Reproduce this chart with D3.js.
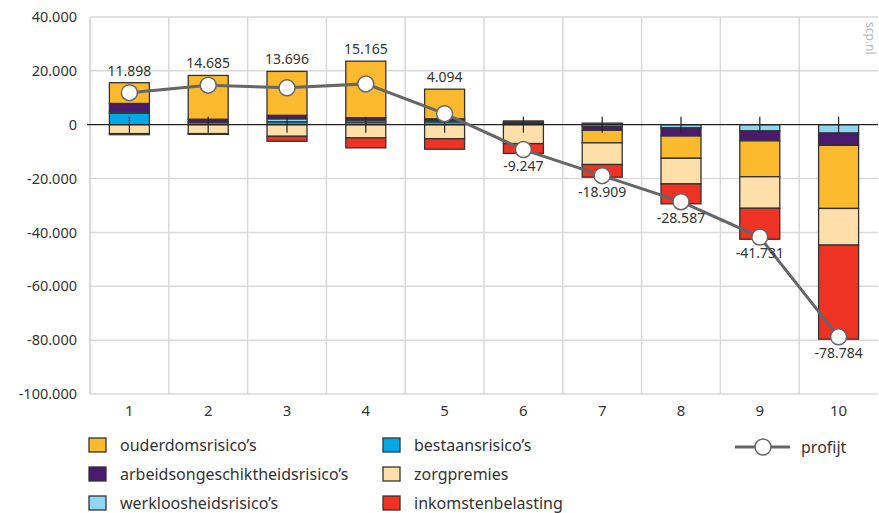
<!DOCTYPE html>
<html><head><meta charset="utf-8">
<script src="https://cdn.jsdelivr.net/npm/d3@7"></script>
<style>
html,body{margin:0;padding:0;background:#fff;}
svg{display:block;font-family:"Noto Sans","Open Sans",sans-serif;}
</style></head>
<body><svg id="c" width="879" height="513"></svg>
<script>
const categories = ["1","2","3","4","5","6","7","8","9","10"];
const bestaans   = [4300, 850, 1100, 1000, 1100, 300, 600, 0, 0, 0];
const werkloos   = [500, 350, 1100, 700, 550, 300, -700, -1200, -2300, -3100];
const arbeids    = [3100, 850, 1300, 900, 550, 300, -1370, -3000, -3700, -4560];
const ouderdom   = [7700, 16250, 16300, 21000, 11000, 500, -4670, -8260, -13330, -23440];
const zorg       = [-3300, -3300, -4300, -4900, -5200, -7000, -8040, -9520, -11700, -13600];
const inkomsten  = [-400, -300, -1850, -3700, -3900, -3650, -4700, -7400, -11500, -34930];
const profijt    = [11898, 14685, 13696, 15165, 4094, -9247, -18909, -28587, -41731, -78784];
const yTicks     = [40000, 20000, 0, -20000, -40000, -60000, -80000, -100000];

const seriesDef = [
  {key:"bestaans", name:"bestaansrisico’s", values:bestaans, color:"#00a9e6"},
  {key:"werkloos", name:"werkloosheidsrisico’s", values:werkloos, color:"#8fd6f3"},
  {key:"arbeids", name:"arbeidsongeschiktheidsrisico’s", values:arbeids, color:"#4a1a6c"},
  {key:"ouderdom", name:"ouderdomsrisico’s", values:ouderdom, color:"#fbb92e"},
  {key:"zorg", name:"zorgpremies", values:zorg, color:"#fedfa9"},
  {key:"inkomsten", name:"inkomstenbelasting", values:inkomsten, color:"#ee3224"}
];
const table = categories.map((c,i)=>{
  const o={cat:c};
  seriesDef.forEach(s=>o[s.key]=s.values[i]);
  return o;
});
const stack = d3.stack().keys(seriesDef.map(s=>s.key)).offset(d3.stackOffsetDiverging);
const stacked = stack(table);

const svg = d3.select("#c");
const fmt = v => d3.format(",")(v).replace(/,/g,".").replace(/\u2212/g,"-");

const x = d3.scaleBand().domain(categories).range([90, 878]).padding(0);
const y = d3.scaleLinear().domain([-100000, 40000]).range([394, 17]);
const barW = 40;
const cx = c => x(c) + x.bandwidth()/2;

// gridlines
const g = svg.append("g");
g.selectAll("line.h").data(yTicks.filter(t=>t!==0)).join("line")
  .attr("x1", 90).attr("x2", 878).attr("y1", d=>y(d)).attr("y2", d=>y(d))
  .attr("stroke","#d9d9d9").attr("stroke-width",1.5);
g.selectAll("line.v").data(categories.slice(1)).join("line")
  .attr("x1", d=>x(d)).attr("x2", d=>x(d)).attr("y1", y(40000)).attr("y2", y(-100000))
  .attr("stroke","#d9d9d9").attr("stroke-width",1.5);
g.append("line").attr("x1",90).attr("x2",90).attr("y1",y(40000)).attr("y2",y(-100000))
  .attr("stroke","#cfcfcf").attr("stroke-width",1.5);

// y axis labels
svg.append("g").selectAll("text").data(yTicks).join("text")
  .attr("x", 77).attr("y", d=>y(d)).attr("dy","0.35em").attr("text-anchor","end")
  .attr("font-size",14.5).attr("fill","#333").text(d=>fmt(d));

// x axis labels
svg.append("g").selectAll("text").data(categories).join("text")
  .attr("x", d=>cx(d)).attr("y", 411).attr("dy","0.35em").attr("text-anchor","middle")
  .attr("font-size",15).attr("fill","#333").text(d=>d);

// bars
const bars = svg.append("g");
stacked.forEach((layer,li)=>{
  bars.append("g").selectAll("rect").data(layer.filter(d=>d[0]!==d[1])).join("rect")
    .attr("x", d=>cx(d.data.cat)-barW/2)
    .attr("width", barW)
    .attr("y", d=>y(Math.max(d[0],d[1])))
    .attr("height", d=>Math.abs(y(d[0])-y(d[1])))
    .attr("fill", seriesDef[li].color)
    .attr("stroke","#333").attr("stroke-width",1.3);
});

// zero line
svg.append("line").attr("x1",87).attr("x2",878).attr("y1",y(0)).attr("y2",y(0))
  .attr("stroke","#222").attr("stroke-width",1.3);

// center ticks
const tickHalf = 3000;
svg.append("g").selectAll("line").data(categories).join("line")
  .attr("x1",d=>cx(d)).attr("x2",d=>cx(d)).attr("y1",y(tickHalf)).attr("y2",y(-tickHalf))
  .attr("stroke","#222").attr("stroke-width",1.2);

// profit line
const line = d3.line().x((d,i)=>cx(categories[i])).y(d=>y(d));
svg.append("path").datum(profijt).attr("d",line).attr("fill","none")
  .attr("stroke","#666").attr("stroke-width",3);
svg.append("g").selectAll("circle").data(profijt).join("circle")
  .attr("cx",(d,i)=>cx(categories[i])).attr("cy",d=>y(d)).attr("r",8)
  .attr("fill","#fff").attr("stroke","#666").attr("stroke-width",1.5);

// value labels
const posTop = categories.map((c,i)=>d3.sum(seriesDef, s=>Math.max(0,s.values[i])));
svg.append("g").selectAll("text").data(profijt).join("text")
  .attr("x",(d,i)=>cx(categories[i]))
  .attr("y",(d,i)=> d>=0 ? y(posTop[i]) - 7 : y(d) + 21)
  .attr("text-anchor","middle").attr("font-size",14).attr("fill","#333")
  .text(d=>fmt(d));

// scp.nl
svg.append("text").attr("transform","translate(866,22) rotate(90)")
  .attr("font-size",12).attr("fill","#b5b5b5").text("scp.nl");

// legend
const legendItems = [
  {s:seriesDef[3], col:0,row:0},
  {s:seriesDef[2], col:0,row:1},
  {s:seriesDef[1], col:0,row:2},
  {s:seriesDef[0], col:1,row:0},
  {s:seriesDef[4], col:1,row:1},
  {s:seriesDef[5], col:1,row:2}
];
const colX=[89,383], rowY=[445,474,503];
const lg = svg.append("g");
legendItems.forEach(it=>{
  lg.append("rect").attr("x",colX[it.col]).attr("y",rowY[it.row]-7).attr("width",17).attr("height",14)
    .attr("fill",it.s.color).attr("stroke","#333").attr("stroke-width",1.3);
  lg.append("text").attr("x",colX[it.col]+31).attr("y",rowY[it.row]).attr("dy","0.35em")
    .attr("font-size",16).attr("fill","#333").text(it.s.name);
});
lg.append("line").attr("x1",735).attr("x2",790).attr("y1",447).attr("y2",447)
  .attr("stroke","#666").attr("stroke-width",3);
lg.append("circle").attr("cx",763).attr("cy",447).attr("r",8).attr("fill","#fff")
  .attr("stroke","#666").attr("stroke-width",1.5);
lg.append("text").attr("x",801).attr("y",447).attr("dy","0.35em").attr("font-size",16)
  .attr("fill","#333").text("profijt");
</script>
</body></html>
